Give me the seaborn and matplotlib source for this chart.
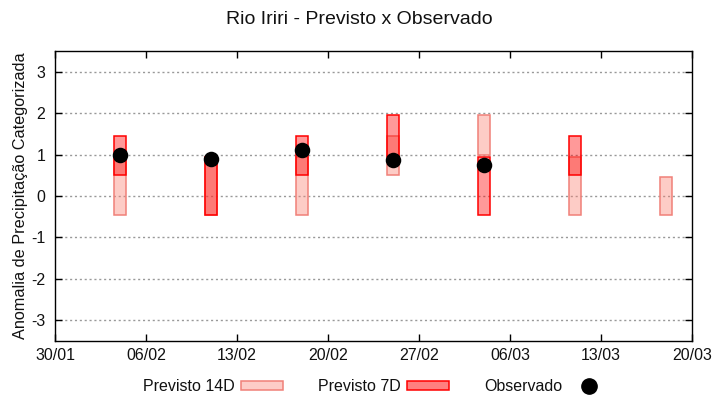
import matplotlib
matplotlib.use('Agg')
import matplotlib.pyplot as plt
import matplotlib.dates as mdates
import seaborn as sns
import pandas as pd
import numpy as np
from matplotlib.patches import Patch
from matplotlib.lines import Line2D

# ---- data ----
dates = ['2021-02-04', '2021-02-11', '2021-02-18', '2021-02-25',
         '2021-03-04', '2021-03-11', '2021-03-18']
p14_low = [-0.45, -0.45, -0.45, 0.50, 1.00, -0.45, -0.45]
p14_high = [0.95, 0.95, 0.95, 1.45, 1.95, 0.95, 0.45]
p7_low = [0.50, -0.45, 0.50, 0.93, -0.45, 0.50, np.nan]
p7_high = [1.45, 0.95, 1.45, 1.95, 0.93, 1.45, np.nan]
observed = [1.00, 0.90, 1.10, 0.88, 0.76, np.nan, np.nan]
xtick_dates = ['2021-01-30', '2021-02-06', '2021-02-13', '2021-02-20',
               '2021-02-27', '2021-03-06', '2021-03-13', '2021-03-20']
yticks = [-3, -2, -1, 0, 1, 2, 3]
labels = ['Previsto 14D', 'Previsto 7D', 'Observado']

sns.set_theme(style='white')
plt.rcParams['font.family'] = ['Liberation Sans', 'DejaVu Sans']
plt.rcParams['axes.unicode_minus'] = False

fig = plt.figure(figsize=(7.2, 4), dpi=100)
ax = fig.add_axes([55/720, 1-341/400, 637/720, 290/400])

df = pd.DataFrame({'date': pd.to_datetime(dates), 'l14': p14_low, 'h14': p14_high,
                   'l7': p7_low, 'h7': p7_high, 'obs': observed})

face14 = (250/255, 128/255, 114/255, 0.4)
edge14 = '#f08078'
face7 = (1.0, 0.0, 0.0, 0.4)
edge7 = '#ff0000'

ax.bar(df['date'], df['h14'] - df['l14'], bottom=df['l14'], width=0.95,
       facecolor=face14, edgecolor=edge14, linewidth=1.1, zorder=2)
d7 = df.dropna(subset=['l7'])
ax.bar(d7['date'], d7['h7'] - d7['l7'], bottom=d7['l7'], width=0.95,
       facecolor=face7, edgecolor=edge7, linewidth=1.1, zorder=3)
dob = df.dropna(subset=['obs'])
sns.scatterplot(data=dob, x='date', y='obs', color='black', s=125,
                linewidth=0, zorder=4, ax=ax, legend=False)

ax.set_xlim(pd.Timestamp(xtick_dates[0]), pd.Timestamp(xtick_dates[-1]))
ax.set_ylim(-3.5, 3.5)
ax.set_xticks(pd.to_datetime(xtick_dates))
ax.xaxis.set_major_formatter(mdates.DateFormatter('%d/%m'))
ax.set_yticks(yticks)
ax.set_xlabel('')
ax.set_ylabel('Anomalia de Precipitação Categorizada', fontsize=11.7, color='#111111')
ax.yaxis.set_label_coords(-0.043, 0.5)

ax.set_axisbelow(True)
ax.yaxis.grid(True, color='#999999', linestyle=(0, (1.5, 2)), linewidth=1)
ax.xaxis.grid(False)
for s in ax.spines.values():
    s.set_color('black')
    s.set_linewidth(1)
ax.tick_params(direction='in', length=5, width=1, color='black',
               bottom=True, left=True, top=True, right=True,
               labelsize=11.5, labelcolor='#111111')
ax.tick_params(axis='y', pad=7)
ax.tick_params(axis='x', pad=5)

fig.text(0.499, 0.951, 'Rio Iriri - Previsto x Observado', ha='center', va='center',
         fontsize=14, color='#111111')

handles = [Patch(facecolor=(253/255, 204/255, 199/255), edgecolor=edge14, linewidth=1.1),
           Patch(facecolor='#ff8080', edgecolor=edge7, linewidth=1.1),
           Line2D([], [], marker='o', color='black', linestyle='', markersize=11)]
fig.legend(handles, labels, loc='center', bbox_to_anchor=(0.523, 0.034), ncol=3,
           frameon=False, markerfirst=False, handlelength=2.6, handleheight=0.5,
           handletextpad=0.4, columnspacing=2.2, fontsize=11.5, labelcolor='#111111')

fig.savefig('out.png', dpi=100)
